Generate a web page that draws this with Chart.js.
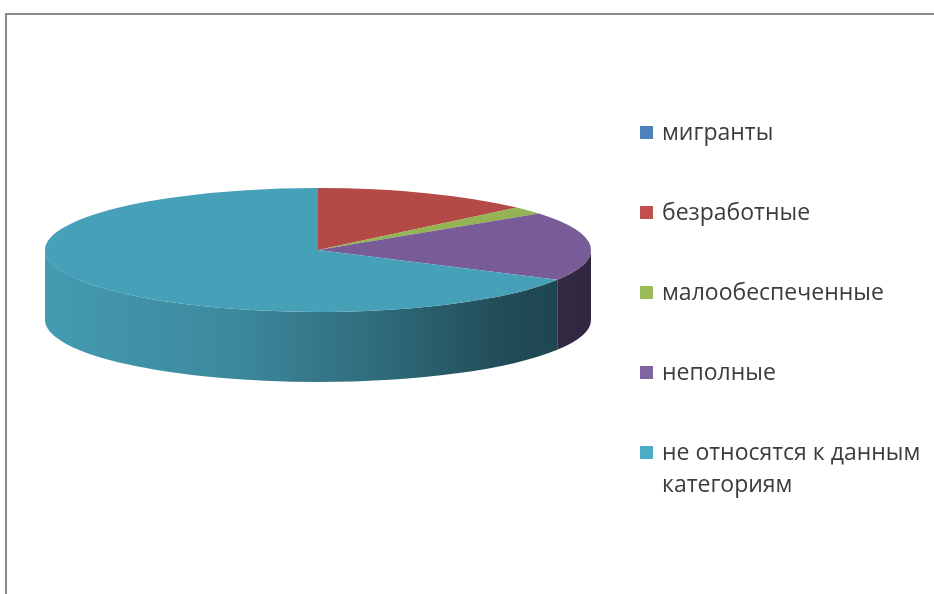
<!DOCTYPE html>
<html>
<head>
<meta charset="utf-8">
<script src="https://cdn.jsdelivr.net/npm/chart.js@4.4.0/dist/chart.umd.min.js"></script>
<style>
  html, body { margin: 0; padding: 0; background: #fff; overflow: hidden; }
</style>
</head>
<body>
<canvas id="pie3d" width="934" height="594"></canvas>
<script>
// data
const categories = ['мигранты', 'безработные', 'малообеспеченные', 'неполные', ['не относятся к данным', 'категориям']];
const shares = [0, 13, 2, 18, 67];
const sliceColors = ['#4F81BD', '#B34A45', '#94B353', '#785C98', '#46A0B8'];
const legendColors = ['#4F81BD', '#C0504D', '#9BBB59', '#8064A2', '#4BACC6'];

// look of the fake 3d pie
const TILT = 0.227;
const DEPTH = 70;
const PIE_CY = 250;

function shade(hex, f) {
    const n = parseInt(hex.slice(1), 16);
    const r = Math.round(((n >> 16) & 255) * f);
    const g = Math.round(((n >> 8) & 255) * f);
    const b = Math.round((n & 255) * f);
    return `rgb(${r},${g},${b})`;
}

const pie3d = {
    id: 'pie3d',
    beforeDraw(chart) {
        // outer frame (only top and left edges show)
        const ctx = chart.ctx;
        ctx.save();
        ctx.strokeStyle = '#8a8a8a';
        ctx.lineWidth = 2;
        ctx.beginPath();
        ctx.moveTo(6, 600);
        ctx.lineTo(6, 14);
        ctx.lineTo(940, 14);
        ctx.stroke();
        ctx.restore();
    },
    beforeDatasetsDraw(chart) {
        const ctx = chart.ctx;
        const arcs = chart.getDatasetMeta(0).data;
        const { x, y, outerRadius: r } = arcs[0];
        const ry = r * TILT;

        // side walls, only the front half is visible
        arcs.forEach((arc, i) => {
            const lo = Math.max(arc.startAngle, 0);
            const hi = Math.min(arc.endAngle, Math.PI);
            if (hi <= lo) return;
            const base = sliceColors[i];
            const grad = ctx.createLinearGradient(x - r, 0, x + r, 0);
            grad.addColorStop(0, shade(base, 0.97));
            grad.addColorStop(0.35, shade(base, 0.85));
            grad.addColorStop(0.6, shade(base, 0.68));
            grad.addColorStop(0.85, shade(base, 0.47));
            grad.addColorStop(1, shade(base, 0.42));
            ctx.save();
            ctx.beginPath();
            ctx.ellipse(x, PIE_CY, r, ry, 0, lo, hi);
            ctx.lineTo(x + r * Math.cos(hi), PIE_CY + ry * Math.sin(hi) + DEPTH);
            ctx.ellipse(x, PIE_CY + DEPTH, r, ry, 0, hi, lo, true);
            ctx.closePath();
            ctx.fillStyle = grad;
            ctx.fill();
            ctx.restore();
        });

        // squash the top face
        ctx.save();
        ctx.translate(x, PIE_CY);
        ctx.scale(1, TILT);
        ctx.translate(-x, -y);
    },
    afterDatasetsDraw(chart) {
        chart.ctx.restore();
    },
    afterDraw(chart) {
        const ctx = chart.ctx;
        ctx.save();
        ctx.font = '23px "Open Sans"';
        ctx.textBaseline = 'middle';
        let ty = 133;
        chart.data.labels.forEach((label, i) => {
            const lines = Array.isArray(label) ? label : [label];
            ctx.fillStyle = legendColors[i];
            ctx.fillRect(640, ty - 7, 13, 13);
            ctx.fillStyle = '#3c3c3c';
            lines.forEach((line, k) => ctx.fillText(line, 662, ty + k * 32));
            ty += 80;
        });
        ctx.restore();
    }
};

new Chart(document.getElementById('pie3d'), {
    type: 'pie',
    data: {
        labels: categories,
        datasets: [{
            data: shares,
            backgroundColor: sliceColors,
            borderWidth: 0
        }]
    },
    options: {
        responsive: false,
        animation: false,
        layout: { padding: { left: 45, right: 343, top: 0, bottom: 48 } },
        plugins: {
            legend: { display: false },
            tooltip: { enabled: false }
        }
    },
    plugins: [pie3d]
});
</script>
</body>
</html>
